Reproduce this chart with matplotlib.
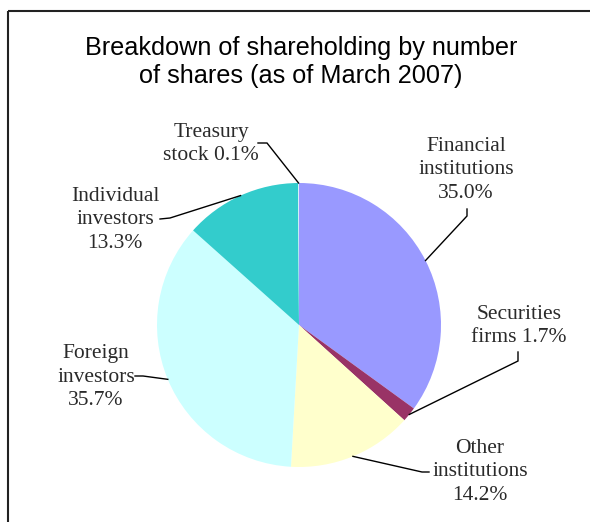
import numpy as np
import matplotlib
matplotlib.use("Agg")
import matplotlib.pyplot as plt

# data (clockwise from 12 o'clock)
labels = ["Financial\ninstitutions\n35.0%", "Securities\nfirms 1.7%", "Other\ninstitutions\n14.2%",
          "Foreign\ninvestors\n35.7%", "Individual\ninvestors\n13.3%", "Treasury\nstock 0.1%"]
shares = [35.0, 1.7, 14.2, 35.7, 13.3, 0.1]
colors = ["#9999FF", "#993366", "#FFFFCC", "#CCFFFF", "#33CCCC", "#D8F0F8"]

# label layout in pixel space (image coords: x right, y down)
# text centre, leader start, leader knee
label_pos = [(466, 170), (519, 326), (480, 472), (96, 377), (115, 220), (211, 144)]
leader_start = [(467, 209), (518, 352), (429, 472), (135, 376), (160, 219), (258, 143)]
leader_knee = [(467, 216), (518, 361), (422, 472), (143, 376), (170, 218), (267, 143)]

W, H = 590, 522
CX, CY, R = 299, 325, 142

fig = plt.figure(figsize=(W / 100, H / 100), dpi=100)
ax = fig.add_axes([0, 0, 1, 1])

wedges, _ = ax.pie(shares, colors=colors, startangle=90, counterclock=False,
                   center=(CX, H - CY), radius=R, frame=True,
                   wedgeprops=dict(linewidth=0))
ax.set_xlim(0, W)
ax.set_ylim(0, H)
ax.set_aspect("equal")
ax.axis("off")

for w, lab, tp, p0, p1 in zip(wedges, labels, label_pos, leader_start, leader_knee):
    mid = np.deg2rad((w.theta1 + w.theta2) / 2)
    ex = CX + R * np.cos(mid)
    ey = (H - CY) + R * np.sin(mid)
    ax.plot([p0[0], p1[0], ex], [H - p0[1], H - p1[1], ey], color="black", lw=1.0,
            solid_joinstyle="miter")
    ax.text(tp[0], H - tp[1], lab, ha="center", va="center", multialignment="center",
            fontsize=15.5, family="Liberation Serif", color="#2a2a2a", linespacing=1.3)

# title
ax.text(301, H - 62, "Breakdown of shareholding by number\nof shares (as of March 2007)",
        ha="center", va="center", fontsize=18.2, family="Liberation Sans", linespacing=1.25)

# frame: top and left only
ax.plot([8, W], [H - 11, H - 11], color="#222222", lw=1.5, solid_capstyle="butt")
ax.plot([8, 8], [H - 11, 0], color="#222222", lw=1.5, solid_capstyle="butt")

fig.savefig("out.png", dpi=100)
